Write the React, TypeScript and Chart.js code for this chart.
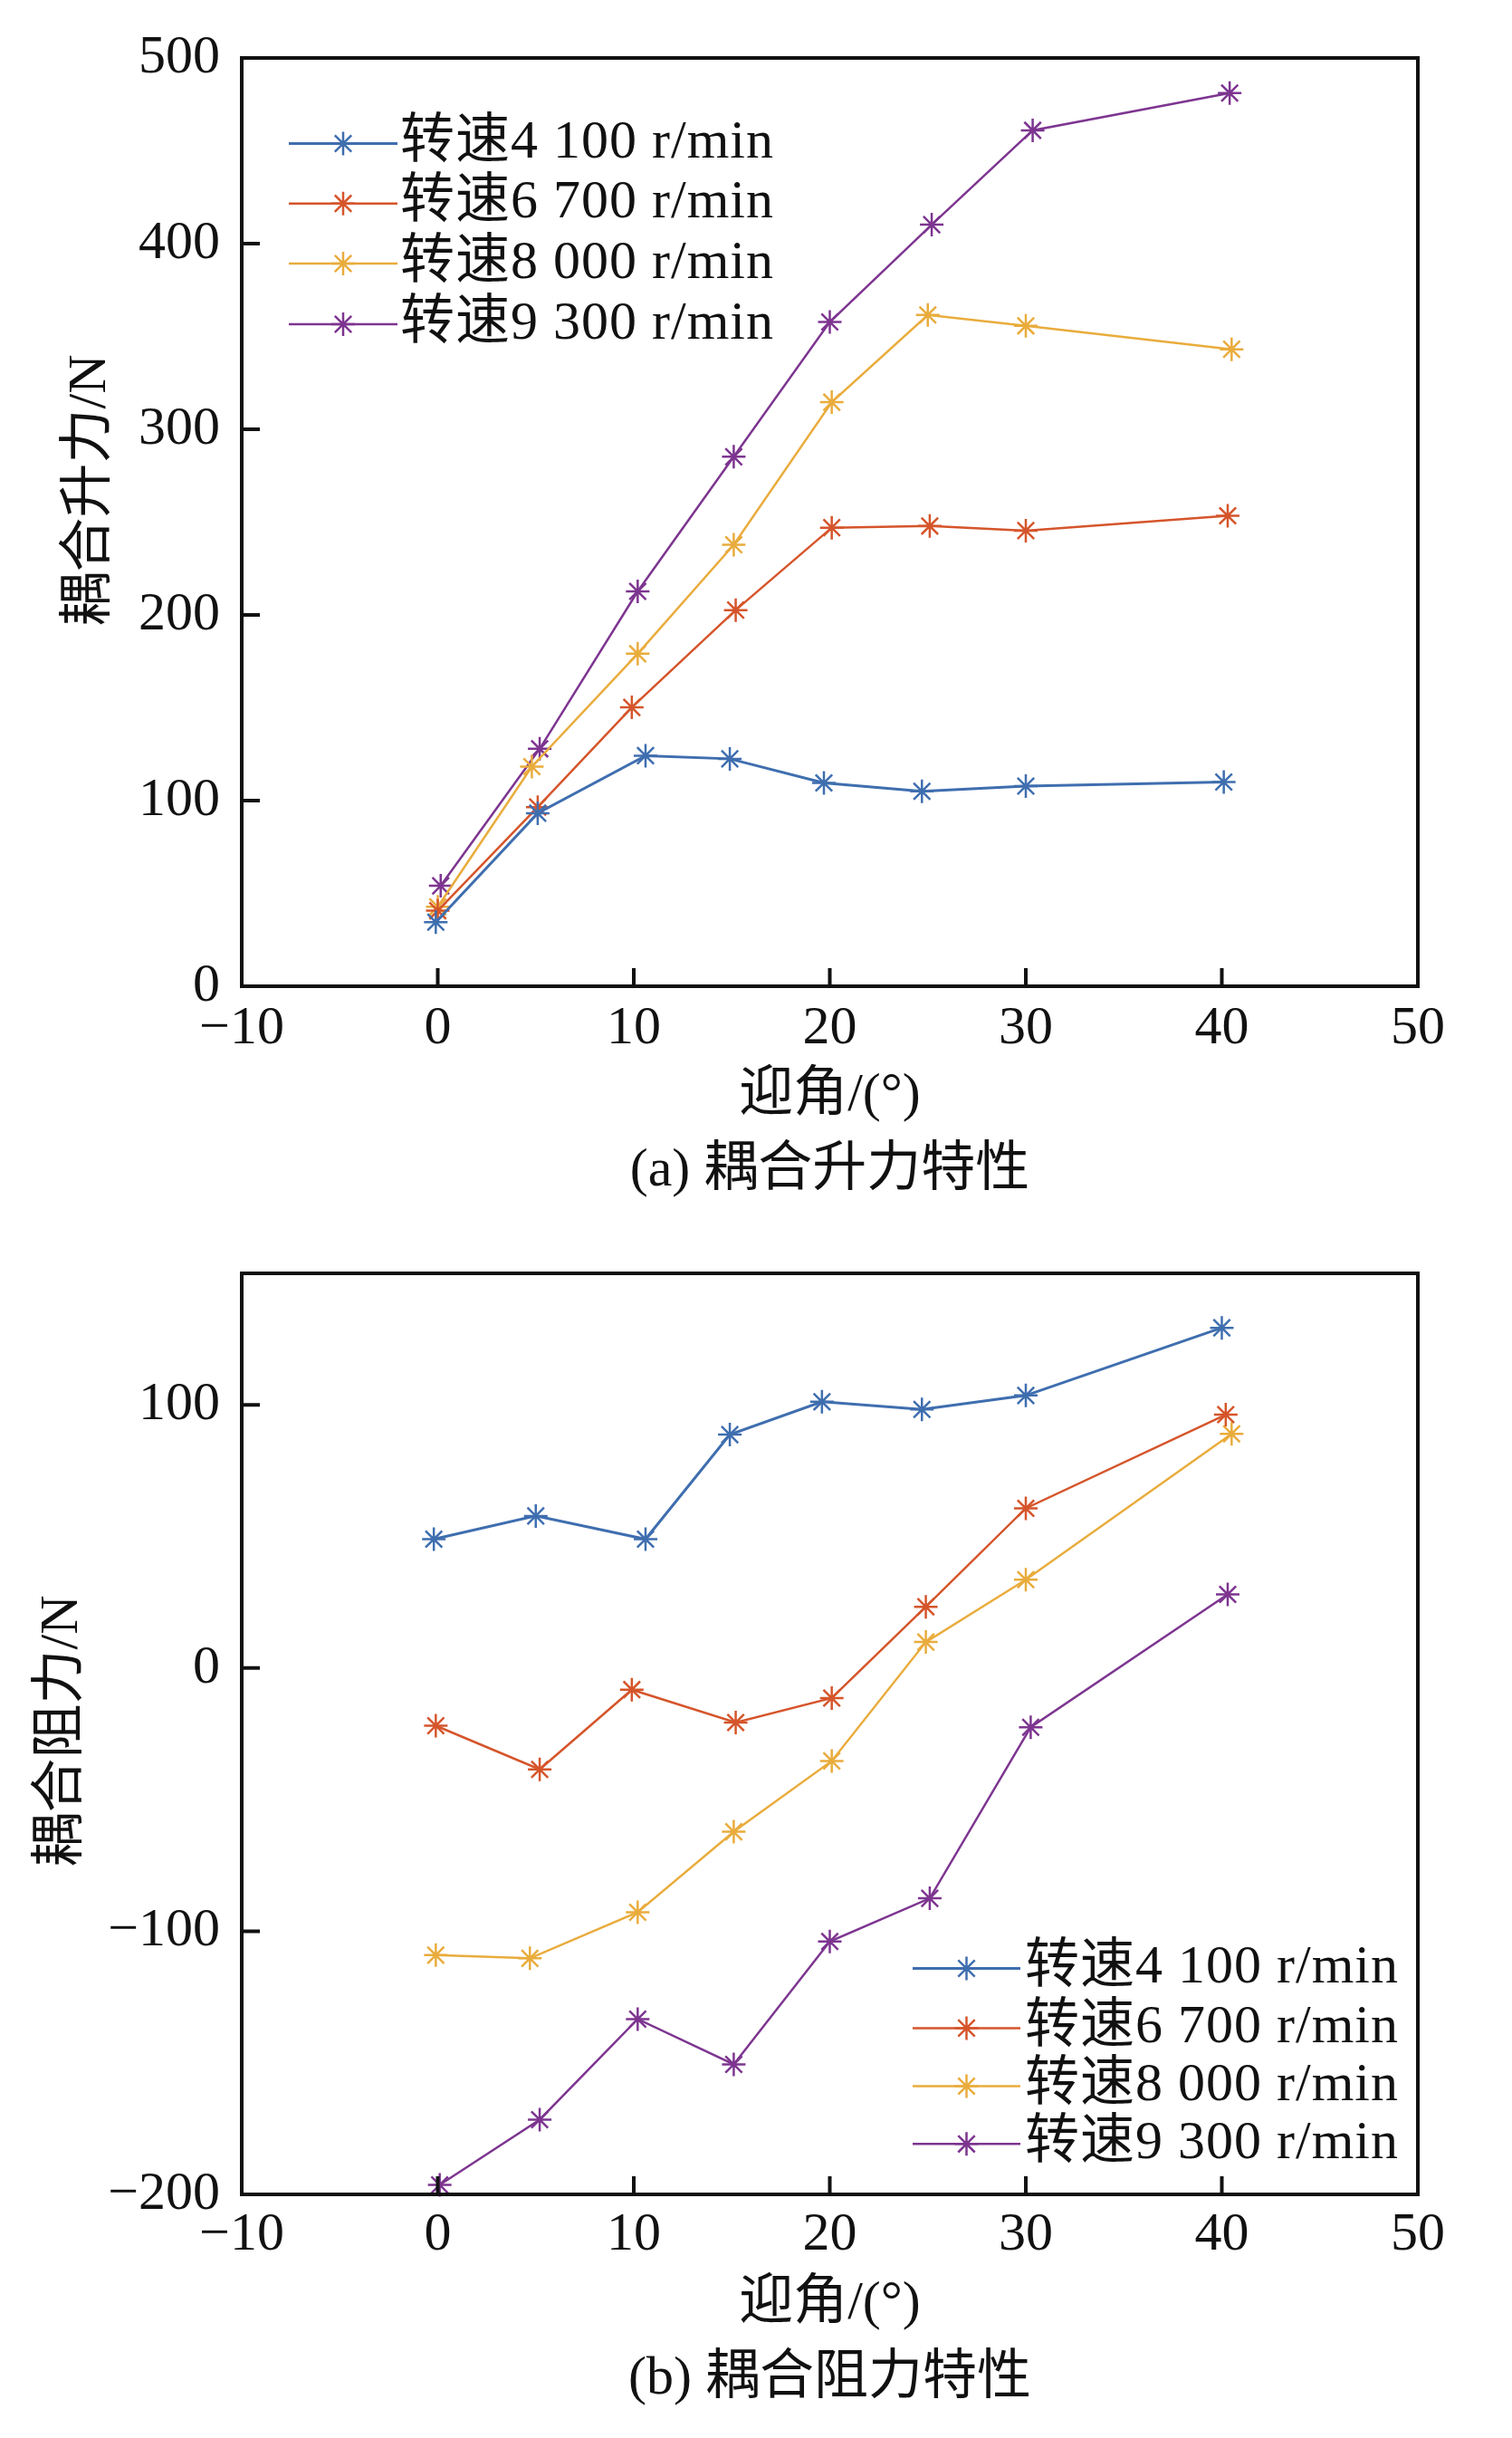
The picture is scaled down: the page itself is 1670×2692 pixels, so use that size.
import React, { useEffect, useRef } from 'react';
import { Chart, registerables } from 'chart.js';
Chart.register(...registerables);

// ---------- data ----------
const SERIES_LABELS = ['转速4 100 r/min', '转速6 700 r/min', '转速8 000 r/min', '转速9 300 r/min'];
const SERIES_COLORS = ['#3F6EAF', '#D5552B', '#E9AC3C', '#7D3590'];

const X_TICKS = [-10, 0, 10, 20, 30, 40, 50];
const LIFT_Y_TICKS = [0, 100, 200, 300, 400, 500];
const DRAG_Y_TICKS = [-200, -100, 0, 100];

// (a) lift
const LIFT_X_4100 = [-0.1, 5.1, 10.6, 14.9, 19.7, 24.7, 30.0, 40.1];
const LIFT_Y_4100 = [34.5, 93.2, 124.2, 122.5, 109.5, 105.0, 107.8, 110.0];
const LIFT_X_6700 = [0, 5.1, 9.9, 15.2, 20.1, 25.1, 30.0, 40.3];
const LIFT_Y_6700 = [40.7, 96.5, 150.2, 202.6, 247.0, 247.9, 245.4, 253.4];
const LIFT_X_8000 = [0, 4.8, 10.2, 15.1, 20.1, 25.0, 30.0, 40.5];
const LIFT_Y_8000 = [42.8, 118.3, 179.1, 237.8, 314.6, 361.6, 355.7, 343.1];
const LIFT_X_9300 = [0.15, 5.2, 10.2, 15.1, 20.0, 25.2, 30.35, 40.4];
const LIFT_Y_9300 = [54.1, 127.9, 212.7, 285.2, 357.8, 410.2, 461.0, 481.1];

// (b) drag
const DRAG_X_4100 = [-0.2, 5.0, 10.6, 14.9, 19.6, 24.7, 30.0, 40.0];
const DRAG_Y_4100 = [49.0, 57.8, 49.0, 88.7, 101.2, 98.3, 103.6, 129.3];
const DRAG_X_6700 = [-0.1, 5.2, 9.9, 15.2, 20.1, 24.9, 30.0, 40.2];
const DRAG_Y_6700 = [-21.9, -38.5, -8.2, -20.7, -11.4, 23.3, 60.7, 96.3];
const DRAG_X_8000 = [-0.1, 4.7, 10.2, 15.1, 20.1, 24.9, 30.0, 40.5];
const DRAG_Y_8000 = [-109.1, -110.3, -92.8, -62.2, -35.3, 9.9, 33.6, 89.0];
const DRAG_X_9300 = [0.1, 5.2, 10.2, 15.1, 20.0, 25.1, 30.25, 40.3];
const DRAG_Y_9300 = [-196.4, -171.6, -133.4, -150.6, -103.9, -87.5, -22.5, 28.0];

const X_TITLE = '迎角/(°)';
const LIFT_CAPTION = '(a) 耦合升力特性';
const DRAG_CAPTION = '(b) 耦合阻力特性';
const LIFT_Y_TITLE = '耦合升力/N';
const DRAG_Y_TITLE = '耦合阻力/N';

// ---------- style ----------
const FAMILY = '"Liberation Serif", "Noto Sans CJK SC", serif';
const FONT_SIZE = 60;
const INK = '#111111';
const W = 1670;
const H = 1346;
const PLOT_LEFT = 267;
const PLOT_RIGHT = 1566;

function drawStar(ctx: CanvasRenderingContext2D, x: number, y: number, r: number) {
  ctx.beginPath();
  for (let k = 0; k < 4; k++) {
    const a = (k * Math.PI) / 4;
    const dx = Math.cos(a) * r;
    const dy = Math.sin(a) * r;
    ctx.moveTo(x - dx, y - dy);
    ctx.lineTo(x + dx, y + dy);
  }
  ctx.stroke();
}

const framePlugin = {
  id: 'frameTicks',
  afterDraw(chart: any, _args: any, opts: any) {
    const { ctx, chartArea } = chart;
    const xs = chart.scales.x;
    const ys = chart.scales.y;
    ctx.save();
    ctx.strokeStyle = INK;
    ctx.lineWidth = opts.lineWidth;
    ctx.lineCap = 'butt';
    ctx.beginPath();
    xs.ticks.forEach((t: any) => {
      const px = xs.getPixelForValue(t.value);
      if (Math.abs(px - chartArea.left) < 2 || Math.abs(px - chartArea.right) < 2) return;
      ctx.moveTo(px, chartArea.bottom);
      ctx.lineTo(px, chartArea.bottom - opts.tickLen);
    });
    ys.ticks.forEach((t: any) => {
      const py = ys.getPixelForValue(t.value);
      if (Math.abs(py - chartArea.top) < 2 || Math.abs(py - chartArea.bottom) < 2) return;
      ctx.moveTo(chartArea.left, py);
      ctx.lineTo(chartArea.left + opts.tickLen, py);
    });
    ctx.stroke();
    ctx.strokeRect(chartArea.left, chartArea.top, chartArea.right - chartArea.left, chartArea.bottom - chartArea.top);
    // y title
    ctx.fillStyle = INK;
    ctx.font = `${FONT_SIZE}px ${FAMILY}`;
    ctx.textAlign = 'center';
    ctx.textBaseline = 'middle';
    ctx.translate(opts.yTitleX, (chartArea.top + chartArea.bottom) / 2 + opts.yTitleShift);
    ctx.rotate(-Math.PI / 2);
    ctx.fillText(opts.yTitle, 0, 0);
    ctx.restore();
  },
};

const legendPlugin = {
  id: 'lineLegend',
  afterDraw(chart: any, _args: any, opts: any) {
    const ctx = chart.ctx;
    ctx.save();
    chart.data.datasets.forEach((ds: any, i: number) => {
      const y = opts.rows[i];
      ctx.strokeStyle = ds.borderColor;
      ctx.lineWidth = ds.borderWidth;
      ctx.beginPath();
      ctx.moveTo(opts.x0, y);
      ctx.lineTo(opts.x1, y);
      ctx.stroke();
      ctx.lineWidth = ds.pointBorderWidth;
      drawStar(ctx, (opts.x0 + opts.x1) / 2, y, ds.pointRadius);
      ctx.fillStyle = INK;
      ctx.font = `${FONT_SIZE}px ${FAMILY}`;
      ctx.textAlign = 'left';
      ctx.textBaseline = 'middle';
      try { (ctx as any).letterSpacing = '1px'; } catch (e) { /* ignore */ }
      ctx.fillText(ds.label, opts.tx, y);
    });
    ctx.restore();
  },
};

function fmt(v: number | string) {
  return String(v).replace('-', '\u2212');
}

function makeDatasets(xs: number[][], ys: number[][]) {
  return xs.map((xa, i) => ({
    label: SERIES_LABELS[i],
    data: xa.map((x, j) => ({ x, y: ys[i][j] })),
    borderColor: SERIES_COLORS[i],
    backgroundColor: SERIES_COLORS[i],
    borderWidth: i === 0 ? 3 : 2.5,
    pointStyle: 'star',
    pointRadius: 13,
    pointBorderWidth: 2.5,
    pointBorderColor: SERIES_COLORS[i],
    pointBackgroundColor: SERIES_COLORS[i],
    tension: 0,
    fill: false,
    clip: false,
  }));
}

interface Spec {
  datasets: any[];
  yMin: number;
  yMax: number;
  yTicks: number[];
  yTitle: string;
  yTitleX: number;
  yTitleShift: number;
  caption: string;
  plotTop: number;
  plotBottom: number;
  tickPad: number;
  captionPad: number;
  legend: { x0: number; x1: number; tx: number; rows: number[] };
}

function makeConfig(s: Spec): any {
  return {
    type: 'line',
    data: { datasets: s.datasets },
    options: {
      animation: false,
      responsive: false,
      devicePixelRatio: 1,
      layout: { padding: { top: s.plotTop, right: W - PLOT_RIGHT, left: 0, bottom: 0 } },
      plugins: {
        legend: { display: false },
        tooltip: { enabled: false },
        frameTicks: {
          lineWidth: 4,
          tickLen: 20,
          yTitle: s.yTitle,
          yTitleX: s.yTitleX,
          yTitleShift: s.yTitleShift,
        },
        lineLegend: s.legend,
      },
      scales: {
        x: {
          type: 'linear',
          min: X_TICKS[0],
          max: X_TICKS[X_TICKS.length - 1],
          afterBuildTicks: (sc: any) => {
            sc.ticks = X_TICKS.map((v) => ({ value: v }));
          },
          afterFit: (sc: any) => {
            sc.height = H - s.plotBottom;
          },
          grid: { display: false, drawTicks: false },
          border: { display: false },
          ticks: {
            color: INK,
            font: { family: FAMILY, size: FONT_SIZE },
            padding: s.tickPad,
            maxRotation: 0,
            autoSkip: false,
            callback: (v: any) => fmt(v),
          },
          title: {
            display: true,
            text: [X_TITLE, s.caption],
            color: INK,
            font: { family: FAMILY, size: FONT_SIZE, lineHeight: '83px' },
            padding: { top: 0, bottom: s.captionPad },
          },
        },
        y: {
          type: 'linear',
          min: s.yMin,
          max: s.yMax,
          afterBuildTicks: (sc: any) => {
            sc.ticks = s.yTicks.map((v) => ({ value: v }));
          },
          afterFit: (sc: any) => {
            sc.width = PLOT_LEFT;
          },
          grid: { display: false, drawTicks: false },
          border: { display: false },
          ticks: {
            color: INK,
            font: { family: FAMILY, size: FONT_SIZE },
            padding: 24,
            autoSkip: false,
            callback: (v: any) => fmt(v),
          },
          title: { display: false },
        },
      },
    },
    plugins: [framePlugin, legendPlugin],
  };
}

function ChartCanvas({ spec, top }: { spec: Spec; top: number }) {
  const ref = useRef<HTMLCanvasElement | null>(null);
  useEffect(() => {
    if (!ref.current) return;
    const chart = new Chart(ref.current, makeConfig(spec));
    return () => chart.destroy();
  }, []);
  return (
    <canvas
      ref={ref}
      width={W}
      height={H}
      style={{ position: 'absolute', left: 0, top, width: W, height: H, display: 'block' }}
    />
  );
}

const liftSpec: Spec = {
  datasets: makeDatasets(
    [LIFT_X_4100, LIFT_X_6700, LIFT_X_8000, LIFT_X_9300],
    [LIFT_Y_4100, LIFT_Y_6700, LIFT_Y_8000, LIFT_Y_9300]
  ),
  yMin: 0,
  yMax: 500,
  yTicks: LIFT_Y_TICKS,
  yTitle: LIFT_Y_TITLE,
  yTitleX: 100,
  yTitleShift: -35,
  caption: LIFT_CAPTION,
  plotTop: 64,
  plotBottom: 1089,
  tickPad: 11,
  captionPad: 11.5,
  legend: { x0: 319, x1: 439, tx: 442, rows: [158.5, 224.7, 291, 358] },
};

const dragSpec: Spec = {
  datasets: makeDatasets(
    [DRAG_X_4100, DRAG_X_6700, DRAG_X_8000, DRAG_X_9300],
    [DRAG_Y_4100, DRAG_Y_6700, DRAG_Y_8000, DRAG_Y_9300]
  ),
  yMin: -200,
  yMax: 150,
  yTicks: DRAG_Y_TICKS,
  yTitle: DRAG_Y_TITLE,
  yTitleX: 69,
  yTitleShift: -3,
  caption: DRAG_CAPTION,
  plotTop: 52,
  plotBottom: 1077,
  tickPad: 9,
  captionPad: 23.5,
  legend: { x0: 1008, x1: 1127, tx: 1132, rows: [1827.5 - 1346 + 346, 1893.4 - 1346 + 346, 1957.5 - 1346 + 346, 2021.3 - 1346 + 346] },
};

export default function App() {
  return (
    <div style={{ position: 'absolute', left: 0, top: 0, width: W, height: 2 * H, background: '#fff', overflow: 'hidden' }}>
      <ChartCanvas spec={liftSpec} top={0} />
      <ChartCanvas spec={dragSpec} top={H} />
    </div>
  );
}
